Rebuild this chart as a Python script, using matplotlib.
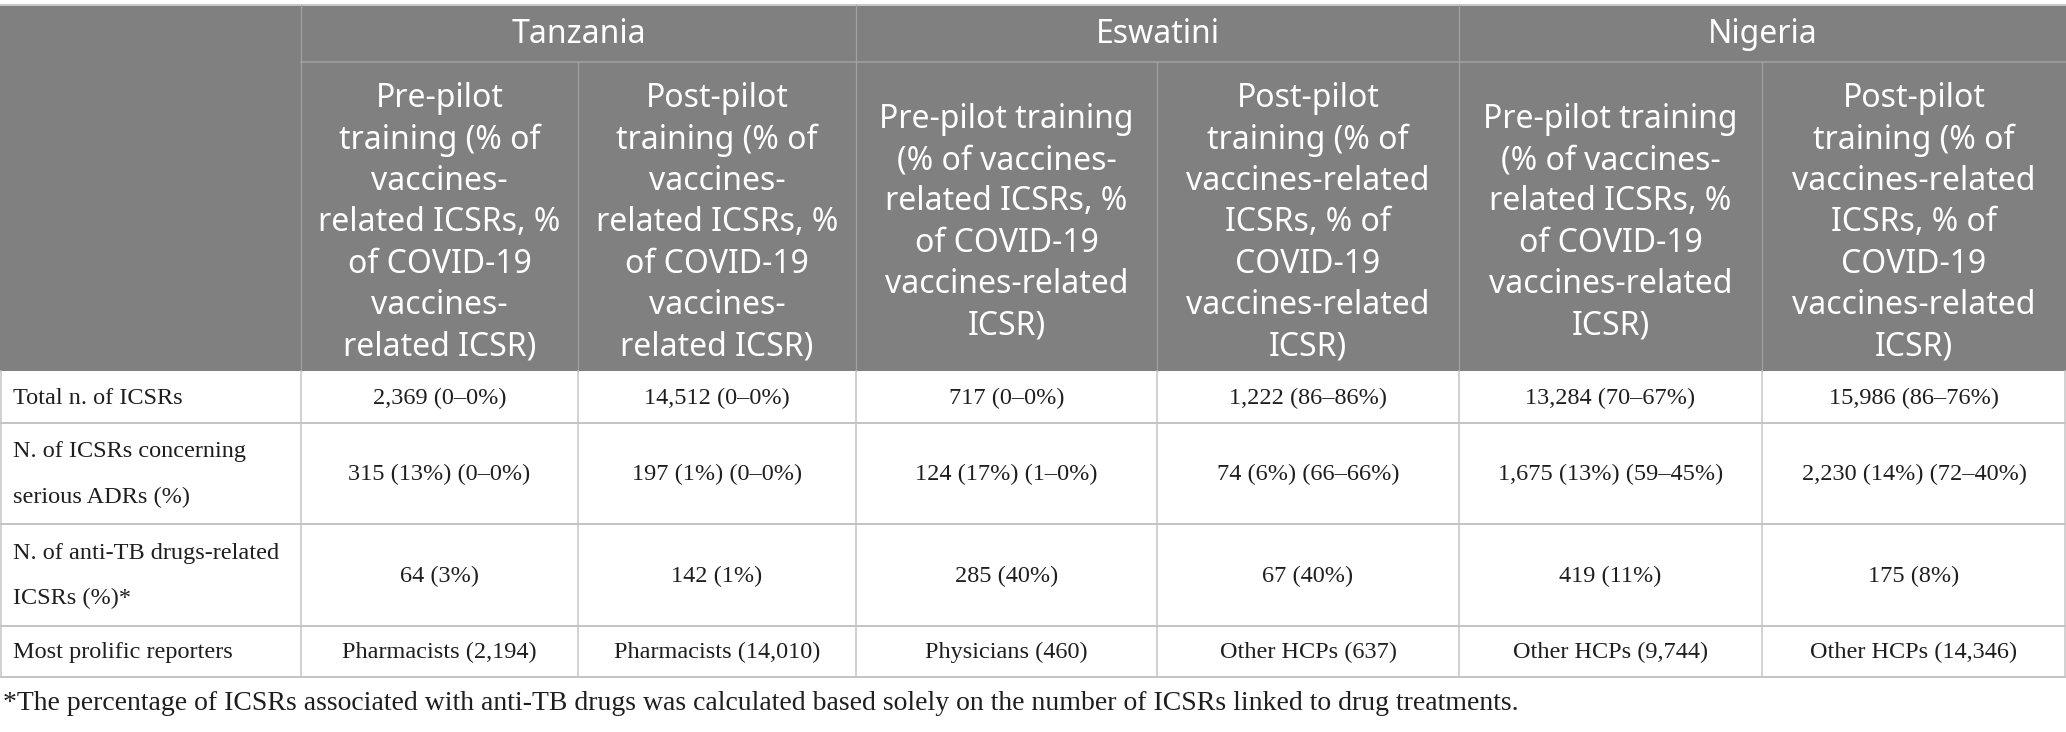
import matplotlib.pyplot as plt

# table content
countries = ["Tanzania", "Eswatini", "Nigeria"]
phase_headers = [
    "Pre-pilot\ntraining (% of\nvaccines-\nrelated ICSRs, %\nof COVID-19\nvaccines-\nrelated ICSR)",
    "Post-pilot\ntraining (% of\nvaccines-\nrelated ICSRs, %\nof COVID-19\nvaccines-\nrelated ICSR)",
    "Pre-pilot training\n(% of vaccines-\nrelated ICSRs, %\nof COVID-19\nvaccines-related\nICSR)",
    "Post-pilot\ntraining (% of\nvaccines-related\nICSRs, % of\nCOVID-19\nvaccines-related\nICSR)",
    "Pre-pilot training\n(% of vaccines-\nrelated ICSRs, %\nof COVID-19\nvaccines-related\nICSR)",
    "Post-pilot\ntraining (% of\nvaccines-related\nICSRs, % of\nCOVID-19\nvaccines-related\nICSR)",
]
row_labels = [
    "Total n. of ICSRs",
    "N. of ICSRs concerning\nserious ADRs (%)",
    "N. of anti-TB drugs-related\nICSRs (%)*",
    "Most prolific reporters",
]
total_icsrs = ["2,369 (0\u20130%)", "14,512 (0\u20130%)", "717 (0\u20130%)",
               "1,222 (86\u201386%)", "13,284 (70\u201367%)", "15,986 (86\u201376%)"]
serious_adrs = ["315 (13%) (0\u20130%)", "197 (1%) (0\u20130%)", "124 (17%) (1\u20130%)",
                "74 (6%) (66\u201366%)", "1,675 (13%) (59\u201345%)", "2,230 (14%) (72\u201340%)"]
anti_tb = ["64 (3%)", "142 (1%)", "285 (40%)", "67 (40%)", "419 (11%)", "175 (8%)"]
reporters = ["Pharmacists (2,194)", "Pharmacists (14,010)", "Physicians (460)",
             "Other HCPs (637)", "Other HCPs (9,744)", "Other HCPs (14,346)"]
body = [total_icsrs, serious_adrs, anti_tb, reporters]
footnote = ("*The percentage of ICSRs associated with anti-TB drugs was calculated "
            "based solely on the number of ICSRs linked to drug treatments.")

# layout (pixels)
W, H = 2066, 732
col_x = [0, 301, 578, 856, 1157, 1459, 1762, 2066]
row_y = [5, 62, 371, 423, 524, 626, 677]
head_bg = "#808080"
head_line = "#a2a2a2"
grid = "#c4c4c4"
px = 0.72  # points per pixel at dpi 100

fig = plt.figure(figsize=(W / 100, H / 100), dpi=100)
ax = fig.add_axes([0, 0, 1, 1])
ax.set_xlim(0, W)
ax.set_ylim(H, 0)
ax.axis("off")

# header background
ax.fill_between([0, W], row_y[0], row_y[2], color=head_bg, lw=0)
ax.plot([0, W], [row_y[0], row_y[0]], color="#c8c8c8", lw=2 * px)

# header lines
ax.plot([col_x[1], W], [row_y[1], row_y[1]], color=head_line, lw=1.5 * px)
for i in (1, 3, 5):
    ax.plot([col_x[i], col_x[i]], [row_y[0], row_y[2]], color=head_line, lw=1.2 * px)
for i in (2, 4, 6):
    ax.plot([col_x[i], col_x[i]], [row_y[1], row_y[2]], color=head_line, lw=1.2 * px)

hfont = "Noto Sans"
for k, name in enumerate(countries):
    xc = (col_x[1 + 2 * k] + col_x[3 + 2 * k]) / 2
    ax.text(xc, (row_y[0] + row_y[1]) / 2 + 1, name, ha="center", va="center",
            fontsize=23, family=hfont, fontweight="light", color="white")
for j, txt in enumerate(phase_headers):
    xc = (col_x[j + 1] + col_x[j + 2]) / 2
    ax.text(xc, (row_y[1] + row_y[2]) / 2 + 6, txt, ha="center", va="center",
            fontsize=23, family=hfont, fontweight="light", color="white",
            linespacing=1.33)

# body grid
for y in row_y[3:]:
    ax.plot([0, W], [y, y], color=grid, lw=2 * px)
for x in col_x[1:-1]:
    ax.plot([x, x], [row_y[2], row_y[-1]], color=grid, lw=1.5 * px)
ax.plot([0.8, 0.8], [row_y[2], row_y[-1]], color=grid, lw=1.5 * px)
ax.plot([W - 1, W - 1], [row_y[2], row_y[-1]], color=grid, lw=1.5 * px)

bfont = "Liberation Serif"
tcol = "#1e1e1e"
for r, label in enumerate(row_labels):
    yc = (row_y[r + 2] + row_y[r + 3]) / 2 + 1
    ax.text(13, yc, label, ha="left", va="center", fontsize=17.5,
            family=bfont, color=tcol, linespacing=2.5)
    for j, val in enumerate(body[r]):
        xc = (col_x[j + 1] + col_x[j + 2]) / 2
        ax.text(xc, yc, val, ha="center", va="center", fontsize=17.5,
                family=bfont, color=tcol)

ax.text(3, 704, footnote, ha="left", va="center", fontsize=20,
        family=bfont, color=tcol)

fig.savefig("out.png", dpi=100)
